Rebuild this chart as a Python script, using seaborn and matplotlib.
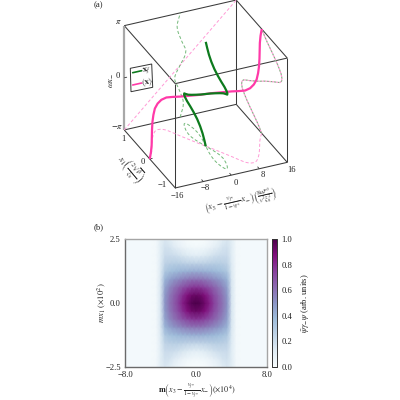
import numpy as np
import pandas as pd
import matplotlib
matplotlib.use("Agg")
import matplotlib.pyplot as plt
import seaborn as sns

sns.set_style("ticks")
plt.rcParams['font.family'] = ['Liberation Serif', 'DejaVu Sans']
plt.rcParams['mathtext.fontset'] = 'stix'
plt.rcParams['font.size'] = 6

# ---------- panel (a) values (half curves, the other half is the point mirror)
x_mean_half = [-16, -15, -14, -13, -12, -11, -10, -9, -8, -7, -6, -5, -4, -3, -2, -1, 0]
phase_half = [-16, -15, -14, -13, -12, -11, -10, -9, -8, -7, -6, -5, -4, -3, -2, -1, 0]  # in pi/16
x1_half = [0, .09, .20, .33, .46, .58, .68, .76, .79, .78, .72, .60, .47, .35, .23, .11, 0]
x_f_half = [0, .25, .55, .80, .90, .80, .55, .20, -.15, -.50, -.90, -1.35, -1.60, -1.50, -1.10, -.55, 0]

x_ticks = [-16, -8, 0, 8, 16]
x1_ticks = [-1, 0, 1]
phase_tick_labels = [r'$-\pi$', '0', r'$\pi$']

# ---------- panel (b) values (one quadrant)
h_x = [0, .5, 1, 1.5, 2, 2.5, 3, 3.5, 4, 4.5, 5, 5.5, 6, 6.5, 7, 7.5, 8]
h_y = [0, .3125, .625, .9375, 1.25, 1.5625, 1.875, 2.1875, 2.5]
h_row0 = [1.00, .98, .92, .84, .75, .67, .60, .50, .16, .03, .02, .02, .02, .02, .02, .02, .02]
h_row1 = [.93, .92, .87, .80, .72, .65, .58, .49, .16, .03, .02, .02, .02, .02, .02, .02, .02]
h_row2 = [.78, .77, .74, .70, .65, .60, .54, .46, .16, .03, .02, .02, .02, .02, .02, .02, .02]
h_row3 = [.60, .60, .58, .56, .53, .50, .46, .40, .15, .03, .02, .02, .02, .02, .02, .02, .02]
h_row4 = [.42, .42, .41, .40, .39, .37, .35, .31, .14, .03, .02, .02, .02, .02, .02, .02, .02]
h_row5 = [.25, .26, .26, .27, .28, .28, .27, .25, .13, .03, .02, .02, .02, .02, .02, .02, .02]
h_row6 = [.11, .12, .14, .16, .18, .20, .21, .21, .12, .03, .02, .02, .02, .02, .02, .02, .02]
h_row7 = [.03, .04, .05, .07, .10, .13, .17, .18, .12, .03, .02, .02, .02, .02, .02, .02, .02]
h_row8 = [.00, .00, .01, .03, .05, .08, .12, .15, .11, .03, .02, .02, .02, .02, .02, .02, .02]
cbar_ticks = [0, .2, .4, .6, .8, 1]


def mirror(a):
    a = np.asarray(a, float)
    return np.concatenate([a, -a[-2::-1]])


x_mean = mirror(x_mean_half)
phase = mirror(phase_half) * np.pi / 16
x1 = mirror(x1_half)
x_f = mirror(x_f_half)

fig = plt.figure(figsize=(4, 4), dpi=100)
ax = fig.add_axes([0, 0, 1, 1])


def proj(x, y, z):
    """Orthographic view of the box, in figure pixels."""
    x, y, z = np.asarray(x, float), np.asarray(y, float), np.asarray(z, float)
    return 205.75 + 3.5 * x - 25.5 * y, 94.0 - 0.8 * x - 29.0 * y - 16.6 * z


def line(x, y, z, color, lw, dashes=None, zorder=2, offset=0):
    px, py = proj(x, y, z)
    df = pd.DataFrame({'px': px, 'py': py})
    sns.lineplot(data=df, x='px', y='py', sort=False, estimator=None, ax=ax,
                 color=color, lw=lw, legend=False, zorder=zorder)
    ln = ax.lines[-1]
    ln.set_solid_capstyle('butt')
    if dashes:
        ln.set_linestyle((offset, dashes))


edge = '#3a3a3a'
P = np.pi
for a, b in [((-16, 1, P), (16, 1, P)), ((-16, -1, P), (16, -1, P)),
             ((-16, 1, -P), (16, 1, -P)), ((-16, -1, -P), (16, -1, -P)),
             ((-16, 1, P), (-16, -1, P)), ((16, 1, P), (16, -1, P)),
             ((-16, 1, -P), (-16, -1, -P)), ((16, 1, -P), (16, 1 - 2, -P)),
             ((-16, -1, -P), (-16, -1, P)), ((16, -1, -P), (16, -1, P)),
             ((16, 1, -P), (16, 1, P))]:
    line([a[0], b[0]], [a[1], b[1]], [a[2], b[2]], edge, 0.75)
line([-16, -16], [1, 1], [-P, P], '#a8a8a8', 1.6)

# shadows on the walls
pink_d, green_d = '#ff9ad6', '#72b878'
d = (3.2, 2.2)
line(x_mean, np.ones_like(x1), phase, pink_d, .7, d)
line(x_f, np.ones_like(x1), phase, green_d, .7, d)
line(x_mean, x1, -P * np.ones_like(x1), pink_d, .7, d)
line(x_f, x1, -P * np.ones_like(x1), green_d, .7, d)
line(16 * np.ones_like(x1), x1, phase, green_d, .8, (2.0, 1.2))
line(16 * np.ones_like(x1), x1, phase, pink_d, .8, (2.0, 1.2), offset=1.6)

# the two curves
line(x_mean, x1, phase, '#ff3aa8', 1.6, zorder=3)
line(x_f, x1, phase, '#0d7a1d', 1.6, zorder=4)

# ticks and tick labels
for v in x_ticks[1:-1]:
    line([v, v + .02], [-1, -.93], [-P, -P], edge, .6)
for v in x1_ticks[1:2]:
    line([-16, -15.2], [v, v], [-P, -P], edge, .6)
line([-16, -15.2], [1, 1], [0, 0], edge, .6)

txt = dict(ha='center', va='center', fontsize=6.2, color='#222222')
for v, (lx, ly) in zip(x_ticks, [(177, 196), (205, 188), (236, 183), (263, 175), (292, 170)]):
    ax.text(lx, ly, str(v).replace('-', '\u2212'), **txt)
for v, (lx, ly) in zip(x1_ticks, [(162, 185), (143, 162), (123, 139)]):
    ax.text(lx, ly, str(v).replace('-', '\u2212'), **txt)
for s, (lx, ly) in zip(phase_tick_labels, [(117, 127), (118, 76), (118, 22)]):
    ax.text(lx, ly, s, **txt)
ax.text(110, 80, r'$\omega x_{-}$', rotation=90, **txt)
ax.text(98, 5, '(a)', **txt)
ax.text(130, 169, r'$x_1\left(\frac{2\sqrt{\beta}}{\xi_0}\right)$', rotation=-50, **txt)
ax.text(241, 202, r'$\left(x_3-\frac{v_{f*}}{1-v_{f*}}\,x_{-}\right)\left(\frac{8uP^3}{v^2\xi_0^2}\right)$',
        rotation=13, ha='center', va='center', fontsize=6.2, color='#222222')

# legend drawn on the slanted wall
ax.fill([130.3, 151.7, 152.7, 131], [68.3, 64, 87.3, 91.7], fc='white', ec='#333333', lw=.7, zorder=5)
ax.plot([132.7, 141.7], [72.7, 70.7], color='#0d7a1d', lw=1.2, zorder=6)
ax.plot([132.7, 141.7], [85, 83], color='#ff3aa8', lw=1.2, zorder=6)
ax.text(147, 70, r'$\mathbf{x}_f$', rotation=10, ha='center', va='center', fontsize=6.5, zorder=6)
ax.text(147, 82.5, r'$\langle\mathbf{x}\rangle$', rotation=10, ha='center', va='center', fontsize=6, zorder=6)

ax.set_xlim(0, 400)
ax.set_ylim(400, 0)
ax.set_axis_off()

# ---------- panel (b)
L, R, T, B = 125, 267.3, 239.3, 366.7
axb = fig.add_axes([L / 400, 1 - B / 400, (R - L) / 400, (B - T) / 400])
quad = np.array([h_row0, h_row1, h_row2, h_row3, h_row4, h_row5, h_row6, h_row7, h_row8])
full = np.hstack([quad[:, :0:-1], quad])
full = np.vstack([full[:0:-1], full])
xs = np.concatenate([-np.array(h_x[:0:-1]), h_x])
ys = np.concatenate([-np.array(h_y[:0:-1]), h_y])
mesh = axb.pcolormesh(xs, ys, full, cmap=sns.color_palette('BuPu', as_cmap=True),
                      vmin=0, vmax=1, shading='gouraud')
axb.set_xlim(-8, 8)
axb.set_ylim(-2.5, 2.5)
axb.set_xticks([-8, 0, 8], ['\u22128.0', '0.0', '8.0'])
axb.set_yticks([-2.5, 0, 2.5], ['\u22122.5', '0.0', '2.5'])
axb.tick_params(direction='in', length=3, width=.7, top=True, right=True, labelsize=6.2,
                color='#333333', pad=3, labelcolor='#222222')
for s in axb.spines.values():
    s.set_color('#6a6a6a')
    s.set_linewidth(1.0)
axb.spines['top'].set_color('#a5a5a5')
axb.spines['right'].set_color('#a5a5a5')
axb.set_ylabel(r'$mx_1\ (\times 10^{2})$', fontsize=6.2, labelpad=-2, color='#222222')
ax.text(197, 391, r'$\mathbf{m}\left(x_3-\frac{v_{f*}}{1-v_{f*}}\,x_{-}\right)(\times 10^{4})$',
        ha='center', va='center', fontsize=5.8, color='#222222')
ax.text(99, 227, '(b)', **txt)

cax = fig.add_axes([272.3 / 400, 1 - B / 400, 4.7 / 400, (B - T) / 400])
cb = fig.colorbar(mesh, cax=cax, ticks=cbar_ticks)
cb.ax.set_yticklabels([f'{v:.1f}' for v in cbar_ticks])
cb.ax.tick_params(direction='in', length=1.8, width=.6, labelsize=6.2, left=True, right=True,
                  pad=3, labelcolor='#222222')
cb.outline.set_linewidth(.7)
cb.outline.set_edgecolor('#333333')
cb.set_label(r'$\bar{\psi}\gamma_{-}\psi$ (arb. units)', fontsize=6.2, labelpad=5, color='#222222')

fig.savefig('out.png', dpi=100)
